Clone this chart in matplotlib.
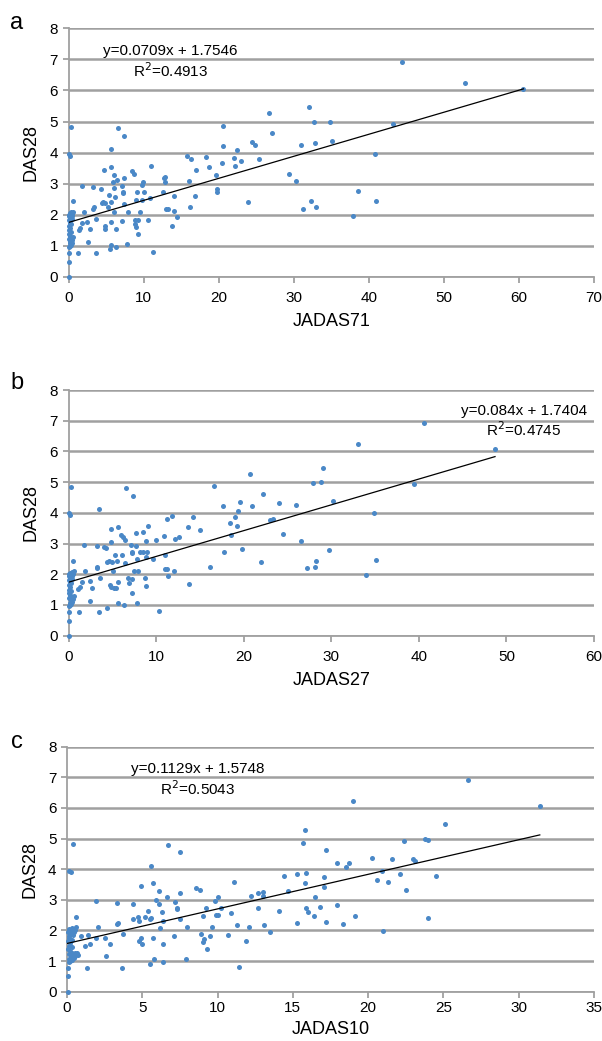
import matplotlib
matplotlib.use("Agg")
from matplotlib import pyplot as plt
import numpy as np

plt.rcParams['font.family'] = ['Liberation Sans', 'DejaVu Sans']

# DAS28 vs JADAS71 (panel a)
jadas71_x = [0.0, 0.05, 0.05, 0.1, 0.2, 0.3, 0.15, 0.4, 0.25, 0.5, 0.1, 0.35, 0.6, 0.2, 0.05, 0.3, 0.1, 0.2,
             0.05, 0.3, 0.15, 0.1, 0.4, 0.2, 0.05, 0.3, 0.5, 0.15, 0.35, 0.6, 0.1, 0.25, 0.45,
             0.36, 0.05, 0.15, 0.56, 1.28, 1.4, 1.5, 1.8, 1.84, 2.0, 2.45, 2.56, 2.8, 3.2, 3.3, 3.4, 3.6, 3.7,
             4.35, 4.4, 4.6, 4.9, 4.75, 4.86, 4.86, 5.3, 5.4, 5.5, 5.6, 5.6, 5.6, 5.7, 5.7, 5.9, 6.0, 6.0,
             6.1, 6.2, 6.3, 6.3, 6.4, 6.6, 7.1, 7.2, 7.2, 7.1, 7.4, 7.4, 7.4, 7.9, 7.8, 8.5, 8.7, 8.8, 8.95,
             8.9, 9.0, 9.1, 9.3, 9.3, 9.5, 9.8, 9.9, 9.8, 10.1, 10.6, 10.8, 11.05, 11.3, 12.6, 12.7, 12.9,
             12.8, 13.0, 13.3, 13.8, 14.1, 14.1, 14.4, 15.8, 16.1, 16.2, 16.3, 16.9, 17.0, 18.3, 18.7, 19.6,
             19.8, 19.8, 20.4, 20.6, 20.6, 22.0, 22.2, 22.5, 23.0, 23.9, 24.5, 24.8, 25.4, 26.7, 27.1, 29.4,
             30.3, 31.0, 31.2, 32.0, 32.3, 32.7, 32.9, 33.0, 34.9, 35.1, 37.9, 38.6, 40.8, 40.9, 43.2, 44.4,
             52.8, 60.6]
das28_a = [0.0, 0.48, 0.76, 0.97, 1.0, 1.02, 1.08, 1.1, 1.15, 1.18, 1.22, 1.25, 1.28, 1.32, 1.38, 1.45, 1.5, 1.58,
           1.65, 1.7, 1.75, 1.82, 1.85, 1.9, 1.95, 1.98, 2.02, 2.05, 2.08, 2.1, 2.0, 1.88, 1.95,
           4.84, 3.96, 3.9, 2.43, 0.76, 1.5, 1.57, 1.74, 2.94, 2.09, 1.77, 1.14, 1.53, 2.9, 2.18, 2.24, 0.76, 1.87,
           2.84, 2.39, 2.42, 2.39, 3.45, 1.64, 1.53, 2.26, 2.63, 0.89, 4.12, 3.55, 2.4, 1.76, 1.03, 3.05, 3.28, 2.87,
           2.09, 2.58, 1.53, 0.97, 3.11, 4.79, 2.92, 2.75, 2.69, 1.79, 4.55, 3.2, 2.35, 2.09, 1.05, 3.4, 3.32, 1.83, 1.62,
           1.7, 2.48, 2.72, 1.83, 1.37, 2.09, 2.95, 3.06, 2.48, 2.72, 1.84, 2.55, 3.56, 0.81, 2.72, 3.2, 3.23,
           3.07, 2.18, 2.18, 1.65, 2.62, 2.11, 1.93, 3.88, 3.1, 2.24, 3.78, 2.6, 3.43, 3.85, 3.53, 3.29,
           2.82, 2.72, 3.66, 4.87, 4.21, 3.84, 3.57, 4.08, 3.74, 2.4, 4.35, 4.23, 3.79, 5.28, 4.62, 3.31,
           3.08, 4.25, 2.19, 5.47, 2.44, 5.0, 4.32, 2.25, 4.97, 4.38, 1.96, 2.78, 3.97, 2.46, 4.93, 6.92,
           6.25, 6.06]

# DAS28 vs JADAS27 (panel b)
jadas27_x = [0.0, 0.05, 0.05, 0.1, 0.2, 0.3, 0.15, 0.4, 0.25, 0.5, 0.1, 0.35, 0.6, 0.2, 0.05, 0.3, 0.1, 0.2,
             0.05, 0.3, 0.15, 0.1, 0.4, 0.2, 0.05, 0.3, 0.5, 0.15, 0.35, 0.6, 0.1, 0.25, 0.45,
             0.3, 0.05, 0.15, 0.5, 1.2, 1.1, 1.3, 1.5, 1.8, 1.9, 2.4, 2.5, 2.7, 3.2, 3.3, 3.3, 3.5, 3.5, 3.6,
             4.0, 4.3, 4.35, 4.6, 4.4, 4.8, 4.8, 4.7, 4.8, 5.0, 5.1, 5.3, 5.2, 5.4, 5.5, 5.6, 5.7, 5.7,
             6.0, 6.2, 6.15, 6.4, 6.3, 6.5, 6.6, 6.8, 6.9, 7.1, 7.2, 7.2, 7.2, 7.3, 7.4, 7.5, 7.9, 7.7, 7.7,
             7.8, 7.8, 8.2, 8.5, 9.0, 8.5, 8.7, 8.8, 8.9, 8.9, 9.05, 9.7, 10.0, 10.3, 10.9, 11.0, 11.0, 11.25,
             11.3, 11.4, 11.8, 12.0, 12.2, 12.6, 13.7, 13.8, 14.2, 15.0, 16.2, 16.6, 17.6, 17.8, 18.4, 18.6,
             19.0, 19.2, 19.4, 19.6, 19.8, 20.7, 20.9, 22.0, 22.2, 23.0, 23.3, 24.0, 24.5, 26.0, 26.5, 27.2,
             27.9, 28.1, 28.3, 28.8, 29.1, 29.8, 30.2, 33.0, 34.0, 34.9, 35.1, 39.4, 40.6, 48.7]
das28_b = [0.0, 0.49, 0.78, 0.97, 1.0, 1.02, 1.08, 1.1, 1.15, 1.18, 1.22, 1.25, 1.28, 1.32, 1.38, 1.45, 1.5, 1.58,
           1.65, 1.7, 1.75, 1.82, 1.85, 1.9, 1.95, 1.98, 2.02, 2.05, 2.08, 2.1, 2.0, 1.88, 1.95,
           4.84, 3.98, 3.93, 2.44, 0.78, 1.51, 1.57, 1.74, 2.95, 2.12, 1.77, 1.14, 1.55, 2.92, 2.19, 2.25, 4.13, 0.78, 1.88,
           2.9, 2.84, 2.4, 2.43, 0.9, 3.46, 3.06, 1.66, 1.6, 2.4, 2.1, 2.63, 1.54, 1.54, 2.42, 3.55, 1.75, 1.07,
           3.28, 3.21, 2.63, 2.36, 0.99, 3.1, 4.8, 1.87, 1.7, 2.95, 2.74, 2.68, 1.38, 1.83, 4.55, 2.12, 2.12, 3.33, 2.93,
           1.05, 2.49, 2.74, 2.74, 2.74, 3.39, 1.87, 2.57, 3.08, 1.62, 3.57, 2.5, 3.1, 0.81, 3.24, 2.63, 2.16, 2.16,
           3.8, 1.94, 3.9, 2.12, 3.14, 3.2, 3.54, 1.67, 3.85, 3.43, 2.25, 4.88, 4.23, 2.74, 3.67, 3.29,
           3.85, 3.57, 4.07, 4.34, 2.83, 5.28, 4.21, 2.41, 4.63, 3.76, 3.79, 4.32, 3.32, 4.26, 3.09, 2.19,
           4.96, 2.25, 2.44, 5.0, 5.47, 2.78, 4.38, 6.25, 1.97, 3.98, 2.46, 4.94, 6.92, 6.07]

# DAS28 vs JADAS10 (panel c)
jadas10_x = [0.05, 0.05, 0.05, 0.1, 0.2, 0.3, 0.15, 0.45, 0.25, 0.55, 0.1, 0.35, 0.65, 0.2, 0.05, 0.3, 0.1, 0.2,
             0.05, 0.3, 0.15, 0.1, 0.4, 0.2, 0.05, 0.3, 0.5, 0.15, 0.35, 0.6, 0.1, 0.25, 0.45, 0.7, 0.55,
             0.43, 0.1, 0.25, 0.63, 0.94, 1.22, 1.35, 1.42, 1.52, 1.93, 1.95, 2.03, 2.5, 2.6, 2.84, 3.3, 3.3, 3.4,
             3.65, 3.7, 4.4, 4.4, 4.7, 4.8, 4.8, 4.9, 4.9, 5.0, 5.15, 5.4, 5.5, 5.6, 5.5, 5.6, 5.7, 5.7, 5.8,
             5.9, 6.1, 6.1, 6.2, 6.3, 6.35, 6.4, 6.4, 6.65, 6.7, 7.1, 7.2, 7.3, 7.3, 7.5, 7.5, 7.5, 7.9, 8.0,
             8.6, 8.8, 8.9, 9.0, 9.1, 9.0, 9.2, 9.3, 9.5, 9.6, 9.8, 10.0, 9.9, 10.0, 10.2, 10.7, 10.9, 11.1,
             11.3, 11.45, 11.9, 12.1, 12.2, 12.7, 12.7, 13.05, 13.05, 13.1, 13.5, 14.1, 14.4, 14.7, 15.3, 15.3,
             15.7, 15.8, 15.8, 15.9, 15.9, 16.0, 16.4, 16.5, 16.8, 17.1, 17.1, 17.2, 17.2, 17.9, 17.9, 18.3,
             18.5, 18.75, 19.0, 19.1, 20.25, 20.6, 20.95, 21.0, 21.3, 21.6, 22.1, 22.4, 22.5, 23.0, 23.1,
             23.8, 24.0, 24.0, 24.5, 25.1, 26.6, 31.4]
das28_c = [0.0, 0.51, 0.79, 0.97, 1.0, 1.02, 1.08, 1.1, 1.15, 1.18, 1.22, 1.25, 1.28, 1.32, 1.38, 1.45, 1.5, 1.58,
           1.65, 1.7, 1.75, 1.82, 1.85, 1.9, 1.95, 1.98, 2.02, 2.05, 2.08, 2.1, 2.0, 1.88, 1.95, 1.2, 1.25,
           4.83, 3.95, 3.92, 2.44, 1.82, 1.49, 0.79, 1.85, 1.55, 2.95, 1.76, 2.11, 1.76, 1.15, 1.55, 2.9, 2.2, 2.23,
           0.79, 1.87, 2.85, 2.39, 2.43, 2.32, 1.65, 1.74, 3.46, 1.55, 2.43, 2.63, 2.37, 2.42, 0.89, 4.12, 3.55, 1.76, 1.07,
           3.01, 3.28, 2.88, 2.07, 2.61, 2.32, 1.55, 0.98, 3.1, 4.79, 1.81, 2.94, 2.72, 2.69, 4.55, 3.23, 2.36, 1.06, 2.11,
           3.39, 3.33, 1.87, 1.63, 1.71, 2.47, 2.72, 1.39, 1.83, 2.12, 2.97, 3.08, 2.49, 2.49, 2.74, 1.84, 2.56, 3.57,
           2.18, 0.82, 1.66, 2.11, 3.12, 2.73, 3.21, 3.24, 3.12, 2.17, 1.94, 2.62, 3.78, 3.29, 2.24, 3.84,
           4.85, 5.27, 3.54, 3.88, 2.73, 2.59, 2.46, 3.08, 2.77, 3.73, 3.43, 4.62, 2.26, 2.83, 4.21, 2.2,
           4.08, 4.21, 6.23, 2.46, 4.37, 3.66, 3.95, 1.97, 3.57, 4.34, 3.84, 4.93, 3.31, 4.33, 4.28,
           4.99, 4.96, 2.4, 3.79, 5.46, 6.91, 6.06]

panels = [
    ('a', jadas71_x, das28_a, 'JADAS71', 70, 10, 0.0709, 1.7546, '0.4913', (13.6, 7.27, 6.64)),
    ('b', jadas27_x, das28_b, 'JADAS27', 60, 10, 0.084, 1.7404, '0.4745', (52.0, 7.32, 6.70)),
    ('c', jadas10_x, das28_c, 'JADAS10', 35, 5, 0.1129, 1.5748, '0.5043', (8.7, 7.26, 6.64)),
]

W, H = 602, 1041
fig = plt.figure(figsize=(W / 100, H / 100), dpi=100)

# axes boxes in pixels: (left, top of y=8, y=0)
boxes = [(68.5, 28.3, 277.0), (68.5, 390.0, 635.7), (67.0, 746.7, 991.7)]
letter_y = [23, 383, 742]
grey = '#a0a0a0'

for (letter, xs, ys, xlab, xmax, xstep, slope, icpt, r2, txt), (l, t, b), ly in zip(panels, boxes, letter_y):
    ax = fig.add_axes([l / W, 1 - b / H, (594 - l) / W, (b - t) / H])
    ax.set_xlim(0, xmax)
    ax.set_ylim(0, 8)
    ax.set_xticks(np.arange(0, xmax + 1, xstep))
    ax.set_yticks(np.arange(0, 9, 1))
    ax.grid(axis='y', color=grey, lw=1.8)
    ax.set_axisbelow(True)
    for s in ['top', 'right']:
        ax.spines[s].set_visible(False)
    for s in ['left', 'bottom']:
        ax.spines[s].set_color(grey)
        ax.spines[s].set_linewidth(1.3)
    ax.tick_params(colors=grey, labelcolor='black', labelsize=11, length=4, width=1.3)
    ax.tick_params(axis='x', pad=6 if letter != 'c' else 3)

    ax.scatter(xs, ys, s=13, color='#4a88c7', zorder=3, linewidths=0, clip_on=False)
    lx = np.array([0, max(xs)])
    ax.plot(lx, slope * lx + icpt, color='black', lw=0.9, zorder=4)

    tx, ty1, ty2 = txt
    ax.text(tx, ty1, 'y=%sx + %s' % (slope, icpt), ha='center', va='center', fontsize=11, zorder=5)
    ax.text(tx, ty2, 'R$^{2}$=' + r2, ha='center', va='center', fontsize=11, zorder=5)

    ax.set_ylabel('DAS28', fontsize=13, labelpad=7)
    ax.set_xlabel(xlab, fontsize=13, labelpad=6 if letter != 'c' else 4)
    fig.text(17 / W, 1 - ly / H, letter, fontsize=17, ha='center', va='center')

fig.savefig('out.png', dpi=100)
